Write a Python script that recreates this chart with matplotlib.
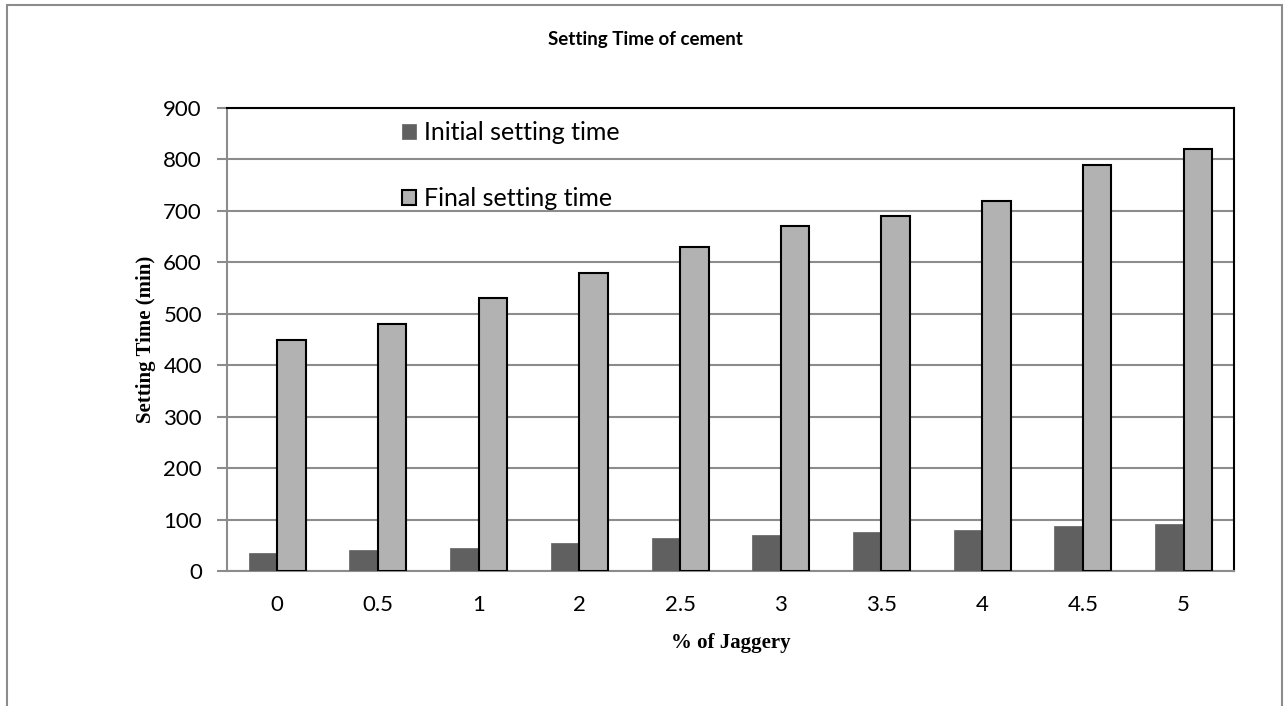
import numpy as np
import matplotlib.pyplot as plt
from matplotlib.patches import Rectangle

# Setting time of cement vs. jaggery content
jaggery = ['0', '0.5', '1', '2', '2.5', '3', '3.5', '4', '4.5', '5']
initial_time = [35, 40, 45, 55, 64, 70, 75, 80, 87, 92]
final_time = [450, 480, 530, 580, 630, 670, 690, 720, 790, 820]

fig = plt.figure(figsize=(12.88, 7.06), dpi=100)
ax = fig.add_axes([0.1762, 0.1912, 0.958 - 0.1762, 0.847 - 0.1912])

# outer chart-area border
fig.patches.append(Rectangle((7/1288, -0.05), 1275/1288, 1 - 5/706 + 0.05,
                             transform=fig.transFigure, fill=False,
                             edgecolor='#8c8c8c', lw=1.5))

x = np.arange(len(jaggery))
w = 0.283
ax.bar(x - w/2, initial_time, w, color='#606060', edgecolor='#606060', lw=0.5,
       label='Initial setting time', zorder=3)
ax.bar(x + w/2, final_time, w, color='#b2b2b2', edgecolor='black', lw=1.5,
       label='Final setting time', zorder=3)

ax.set_xlim(-0.5, len(jaggery) - 0.5)
ax.set_ylim(0, 900)
ax.set_yticks(range(0, 901, 100))
ax.set_xticks(x)
ax.set_xticklabels(jaggery)
ax.yaxis.grid(True, color='#8c8c8c', lw=1.5, zorder=0)
ax.tick_params(axis='y', length=7, color='#8c8c8c', width=1.5, labelsize=16, pad=11)
ax.tick_params(axis='x', length=0, labelsize=16, pad=17)
for lab in ax.get_xticklabels() + ax.get_yticklabels():
    lab.set_family('Lato')

for s in ['left', 'bottom']:
    ax.spines[s].set_color('#8c8c8c')
    ax.spines[s].set_linewidth(1.5)
for s in ['top', 'right']:
    ax.spines[s].set_color('black')
    ax.spines[s].set_linewidth(1.5)

ax.set_ylabel('Setting Time (min)', family='Liberation Serif', fontweight='bold',
              fontsize=15)
ax.yaxis.set_label_coords(-0.070, 0.5)
ax.set_xlabel('% of Jaggery', family='Liberation Serif', fontweight='bold',
              fontsize=15)
ax.xaxis.set_label_coords(0.5, -(633 - 571) / 463)
fig.text(645/1288, 1 - 39/706, 'Setting Time of cement', ha='center', va='center',
         fontsize=13.5, fontweight='bold', family='Lato')

ax.legend(loc='upper left', bbox_to_anchor=(0.174, 0.972), frameon=False,
          prop={'family': 'Lato', 'size': 18}, labelspacing=1.74,
          borderpad=0, borderaxespad=0,
          handlelength=0.56, handleheight=0.56, handletextpad=0.3)

fig.savefig('out.png', dpi=100)
